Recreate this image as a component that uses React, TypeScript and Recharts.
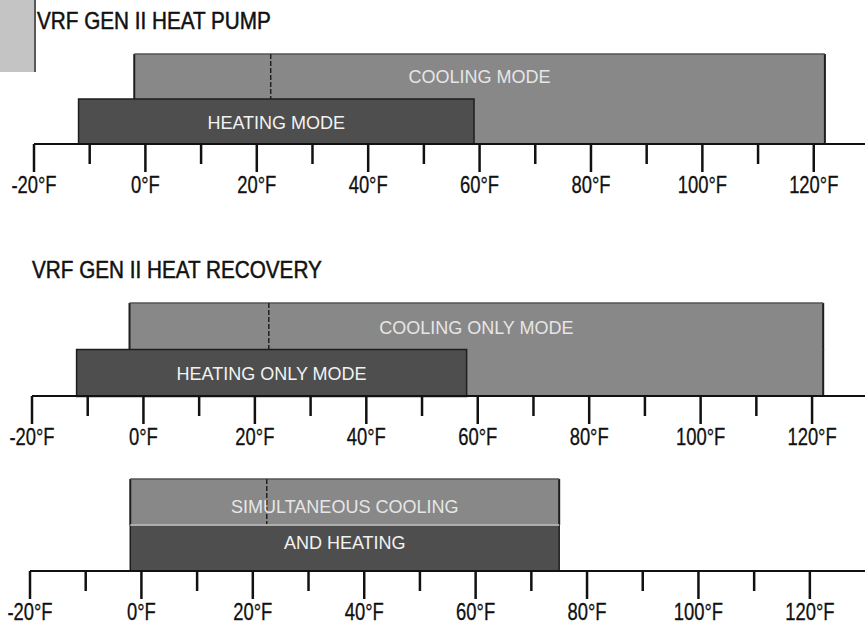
import React from "react";
import { BarChart, Bar, XAxis, YAxis } from "recharts";

// ---- data ----
const MAJOR_TICKS = [-20, 0, 20, 40, 60, 80, 100, 120];
const MINOR_TICKS = [-10, 10, 30, 50, 70, 90, 110];
const TICK_LABELS = ["-20°F", "0°F", "20°F", "40°F", "60°F", "80°F", "100°F", "120°F"];
const ALL_TICKS = [...MAJOR_TICKS, ...MINOR_TICKS].sort((a, b) => a - b);

const ROWS = ["top", "bottom"];

const HP_TITLE = "VRF GEN II HEAT PUMP";
const HP_COOLING = [-2, 122];
const HP_HEATING = [-12, 59];
const HP_LABELS = ["COOLING MODE", "HEATING MODE"];

const HR_TITLE = "VRF GEN II HEAT RECOVERY";
const HR_COOLING = [-2.5, 122];
const HR_HEATING = [-12, 58];
const HR_LABELS = ["COOLING ONLY MODE", "HEATING ONLY MODE"];

const SIM_RANGE = [-2, 75];
const SIM_LABELS = ["SIMULTANEOUS COOLING", "AND HEATING"];

const MARKER_TEMP = 22.5;

// ---- styling ----
const COOL_FILL = "#888888";
const HEAT_FILL = "#4e4e4e";
const EDGE = "#1e1e1e";
const LABEL_FONT = "'Liberation Sans', Arial, sans-serif";

const heatPumpData = [
  { row: ROWS[0], cool: HP_COOLING, coolLabel: HP_LABELS[0] },
  { row: ROWS[1], cool: HP_COOLING, heat: HP_HEATING, heatLabel: HP_LABELS[1] },
];
const heatRecoveryData = [
  { row: ROWS[0], cool: HR_COOLING, coolLabel: HR_LABELS[0] },
  { row: ROWS[1], cool: HR_COOLING, heat: HR_HEATING, heatLabel: HR_LABELS[1] },
];
const simData = [
  { row: ROWS[0], cool: SIM_RANGE, coolLabel: SIM_LABELS[0] },
  { row: ROWS[1], heat: SIM_RANGE, heatLabel: SIM_LABELS[1] },
];

function makeTick(labelOffset: number) {
  return (props: any) => {
    const { x, y, payload } = props;
    const v = payload.value;
    const mi = MAJOR_TICKS.indexOf(v);
    const major = mi >= 0;
    return (
      <g>
        <line x1={x} y1={y} x2={x} y2={y + (major ? 28 : 20)} stroke="#111" strokeWidth={2.5} />
        {major && (
          <text
            transform={`translate(${x},${y + labelOffset}) scale(0.8,1)`}
            x={0}
            y={0}
            textAnchor="middle"
            fontFamily={LABEL_FONT}
            fontSize={23}
            fill="#111"
            stroke="#111"
            strokeWidth={0.3}
          >
            {TICK_LABELS[mi]}
          </text>
        )}
      </g>
    );
  };
}

function makeCoolShape(textDy: number, range: number[] | null) {
  return (props: any) => {
    const { x, y, width, height, payload } = props;
    if (width == null || height == null) return null;
    const isTop = payload.row === ROWS[0];
    let markerX: number | null = null;
    if (isTop && range) {
      markerX = x + ((MARKER_TEMP - range[0]) / (range[1] - range[0])) * width;
    }
    return (
      <g>
        <rect x={x} y={y} width={width} height={height} fill={COOL_FILL} />
        <line x1={x} y1={y} x2={x} y2={y + height} stroke={EDGE} strokeWidth={2} />
        <line x1={x + width} y1={y} x2={x + width} y2={y + height} stroke={EDGE} strokeWidth={2} />
        {isTop && <line x1={x} y1={y} x2={x + width} y2={y} stroke="#555" strokeWidth={1.5} />}
        {markerX != null && (
          <line x1={markerX} y1={y} x2={markerX} y2={y + height} stroke="#222" strokeWidth={1.5} strokeDasharray="5 2" />
        )}
        {payload.coolLabel && (
          <text
            x={x + width / 2}
            y={y + height / 2 + textDy}
            textAnchor="middle"
            dominantBaseline="central"
            fontFamily={LABEL_FONT}
            fontSize={18}
            fill="#e6e6e6"
          >
            {payload.coolLabel}
          </text>
        )}
      </g>
    );
  };
}

function makeHeatShape(textDy: number, lightTop: boolean) {
  return (props: any) => {
    const { x, y, width, height, payload } = props;
    if (width == null || height == null) return null;
    return (
      <g>
        <rect x={x} y={y} width={width} height={height} fill={HEAT_FILL} stroke={EDGE} strokeWidth={1.5} />
        {lightTop && <line x1={x} y1={y} x2={x + width} y2={y} stroke="#d8d8d8" strokeWidth={1.5} />}
        {payload.heatLabel && (
          <text
            x={x + width / 2}
            y={y + height / 2 + textDy}
            textAnchor="middle"
            dominantBaseline="central"
            fontFamily={LABEL_FONT}
            fontSize={18}
            fill="#f2f2f2"
          >
            {payload.heatLabel}
          </text>
        )}
      </g>
    );
  };
}

type PanelProps = {
  data: any[];
  top: number;
  height: number;
  marginTop: number;
  left: number;
  axisHeight: number;
  domainMax: number;
  coolRange: number[] | null;
  coolDy: number;
  heatDy: number;
  lightSplit: boolean;
};

function Panel(p: PanelProps) {
  return (
    <div style={{ position: "absolute", left: 0, top: p.top }}>
      <BarChart
        width={865}
        height={p.height}
        data={p.data}
        layout="vertical"
        margin={{ top: p.marginTop, right: 0, left: p.left, bottom: 0 }}
        barCategoryGap={0}
        barGap={0}
      >
        <XAxis
          type="number"
          domain={[-20, p.domainMax]}
          allowDataOverflow
          ticks={ALL_TICKS}
          interval={0}
          tickSize={0}
          tickMargin={0}
          height={p.axisHeight}
          axisLine={{ stroke: "#111", strokeWidth: 2 }}
          tickLine={false}
          tick={makeTick(49)}
        />
        <YAxis yAxisId="c" type="category" dataKey="row" hide />
        <YAxis yAxisId="h" type="category" dataKey="row" hide />
        <Bar yAxisId="c" dataKey="cool" isAnimationActive={false} shape={makeCoolShape(p.coolDy, p.coolRange)} />
        <Bar yAxisId="h" dataKey="heat" isAnimationActive={false} shape={makeHeatShape(p.heatDy, p.lightSplit)} />
      </BarChart>
    </div>
  );
}

export default function App() {
  return (
    <div
      style={{
        position: "absolute",
        left: 0,
        top: 0,
        width: 865,
        height: 628,
        background: "#ffffff",
        overflow: "hidden",
      }}
    >
      <Panel
        data={heatPumpData}
        top={0}
        height={200}
        marginTop={54}
        left={34}
        axisHeight={56}
        domainMax={129.2}
        coolRange={HP_COOLING}
        coolDy={0}
        heatDy={1}
        lightSplit={false}
      />
      <Panel
        data={heatRecoveryData}
        top={250}
        height={200}
        marginTop={53}
        left={32}
        axisHeight={54}
        domainMax={129.5}
        coolRange={HR_COOLING}
        coolDy={1}
        heatDy={1}
        lightSplit={false}
      />
      <Panel
        data={simData}
        top={440}
        height={188}
        marginTop={39}
        left={30}
        axisHeight={57}
        domainMax={129.9}
        coolRange={SIM_RANGE}
        coolDy={5}
        heatDy={-5}
        lightSplit={true}
      />
      <svg
        width={865}
        height={628}
        style={{ position: "absolute", left: 0, top: 0, pointerEvents: "none" }}
      >
        <rect x={0} y={0} width={34} height={72} fill="#c4c4c4" />
        <line x1={35} y1={0} x2={35} y2={72} stroke="#222" strokeWidth={1.5} />
        <text
          transform="translate(37,29) scale(0.9,1)"
          x={0}
          y={0}
          fontFamily={LABEL_FONT}
          fontSize={23}
          fill="#111"
          stroke="#111"
          strokeWidth={0.5}
        >
          {HP_TITLE}
        </text>
        <text
          transform="translate(32,278) scale(0.9,1)"
          x={0}
          y={0}
          fontFamily={LABEL_FONT}
          fontSize={23}
          fill="#111"
          stroke="#111"
          strokeWidth={0.5}
        >
          {HR_TITLE}
        </text>
      </svg>
    </div>
  );
}
